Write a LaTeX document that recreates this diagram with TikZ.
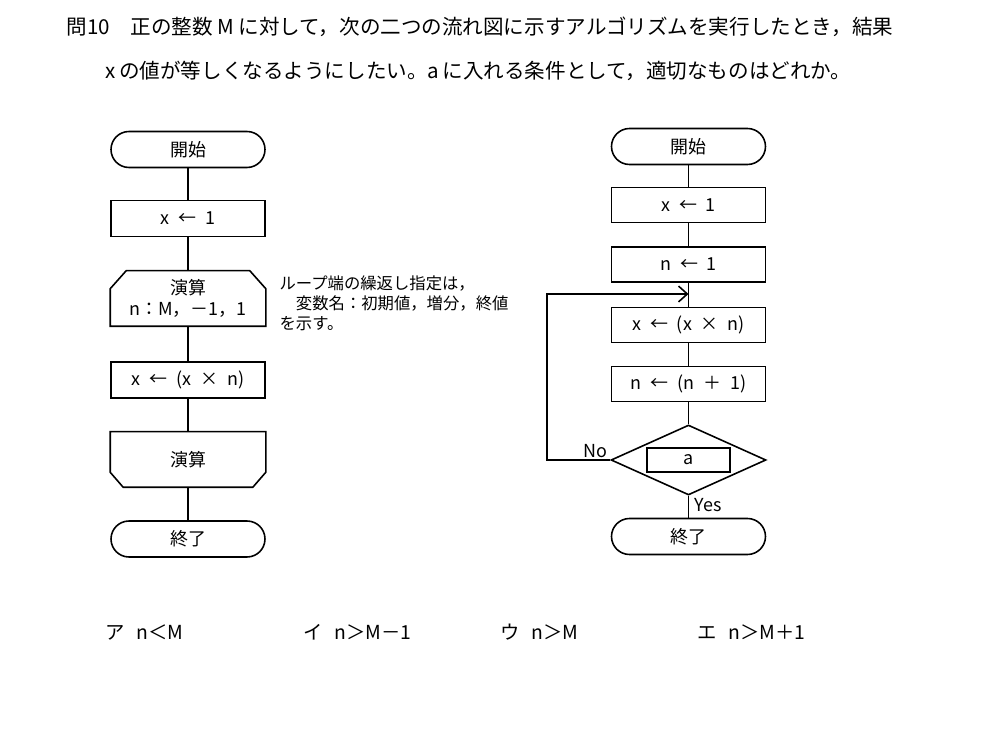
\documentclass[tikz,border=0pt]{standalone}
\usepackage{fontspec}
\setmainfont{Noto Sans CJK JP}
\usepackage{tikz}
\usetikzlibrary{shapes.misc, shapes.geometric, arrows.meta}

% outline of the loop ends (chamfered at top / bottom)
\newcommand{\loophead}[1]{\draw ([xshift=0.32cm]#1.north west) -- ([xshift=-0.32cm]#1.north east) -- ([yshift=-0.36cm]#1.north east) -- (#1.south east) -- (#1.south west) -- ([yshift=-0.36cm]#1.north west) -- cycle;}
\newcommand{\looptail}[1]{\draw (#1.north west) -- (#1.north east) -- ([yshift=0.3cm]#1.south east) -- ([xshift=-0.26cm]#1.south east) -- ([xshift=0.26cm]#1.south west) -- ([yshift=0.3cm]#1.south west) -- cycle;}

\begin{document}
\begin{tikzpicture}[>={Straight Barb[length=5pt,width=9pt]}, line width=0.9pt,
    every node/.style={font=\fontsize{10.2}{12}\selectfont},
    term/.style={draw, rectangle, rounded corners=0.36cm, minimum width=3.08cm, minimum height=0.72cm},
    proc/.style={draw, rectangle, minimum width=3.08cm, minimum height=0.72cm},
    procb/.style={proc, minimum height=0.7cm},
    loopbox/.style={rectangle, minimum width=3.08cm, minimum height=1.08cm, align=center},
    cond/.style={draw, diamond, minimum width=3.1cm, minimum height=1.4cm, inner sep=0pt},
    qtext/.style={anchor=west, font=\fontsize{11.7}{14}\selectfont},
    note/.style={anchor=north west, align=left, font=\fontsize{9.3}{11.3}\selectfont},
    choice/.style={anchor=west, font=\fontsize{11}{13}\selectfont}]
    \useasboundingbox (0,0) rectangle (19.76,-14.7);

    % question
    \node[qtext] (q1) at (1.2,-0.54) {問10　正の整数 M に対して，次の二つの流れ図に示すアルゴリズムを実行したとき，結果};
    \node[qtext] (q2) at (1.98,-1.42) {x\,の値が等しくなるようにしたい。a\,に入れる条件として，適切なものはどれか。};

    % left chart
    \node[term] (ls) at (3.76,-2.99) {開始};
    \node[proc] (lx) at (3.76,-4.37) {x\enspace←\enspace 1};
    \node[loopbox] (lh) at (3.76,-5.97) {演算\\n：M，－1，1};
    \node[proc] (lm) at (3.76,-7.6) {x\enspace←\enspace(x\enspace×\enspace n)};
    \node[loopbox] (lt) at (3.76,-9.19) {演算};
    \node[term] (le) at (3.76,-10.78) {終了};
    \loophead{lh}
    \looptail{lt}
    \draw (ls) -- (lx);
    \draw (lx) -- (lh);
    \draw (lh) -- (lm);
    \draw (lm) -- (lt);
    \draw (lt) -- (le);

    \node[note] (nt) at (5.46,-5.38) {ループ端の繰返し指定は，\\　変数名：初期値，増分，終値\\を示す。};

    % right chart
    \node[term] (rs) at (13.77,-2.93) {開始};
    \node[procb] (rx) at (13.77,-4.1) {x\enspace←\enspace 1};
    \node[procb] (rn) at (13.77,-5.29) {n\enspace←\enspace 1};
    \node[procb] (rm) at (13.77,-6.5) {x\enspace←\enspace(x\enspace×\enspace n)};
    \node[procb] (ri) at (13.77,-7.68) {n\enspace←\enspace(n\enspace＋\enspace 1)};
    \node[cond] (rd) at (13.77,-9.2) {};
    \node[draw, minimum width=1.66cm, minimum height=0.48cm, inner sep=1pt] (ca) at (13.77,-9.2) {a};
    \node[term] (re) at (13.77,-10.73) {終了};
    \coordinate (rj) at (13.77,-5.88);
    \draw (rs) -- (rx);
    \draw (rx) -- (rn);
    \draw (rn) -- (rm);
    \draw (rm) -- (ri);
    \draw (ri) -- (rd);
    \draw (rd) -- (re);
    \draw[->] (rd.west) -- (10.94,-9.2) |- (rj);
    \node[anchor=south east, inner sep=1pt] (no) at (rd.west) {No};
    \node[anchor=north west, inner sep=1pt] (yes) at ([xshift=2pt]rd.south) {Yes};

    % choices
    \node[choice] (ca1) at (1.98,-12.64) {ア\hspace{0.6em}n＜M};
    \node[choice] (ca2) at (5.94,-12.64) {イ\hspace{0.6em}n＞M－1};
    \node[choice] (ca3) at (9.88,-12.64) {ウ\hspace{0.6em}n＞M};
    \node[choice] (ca4) at (13.82,-12.64) {エ\hspace{0.6em}n＞M＋1};
\end{tikzpicture}
\end{document}
